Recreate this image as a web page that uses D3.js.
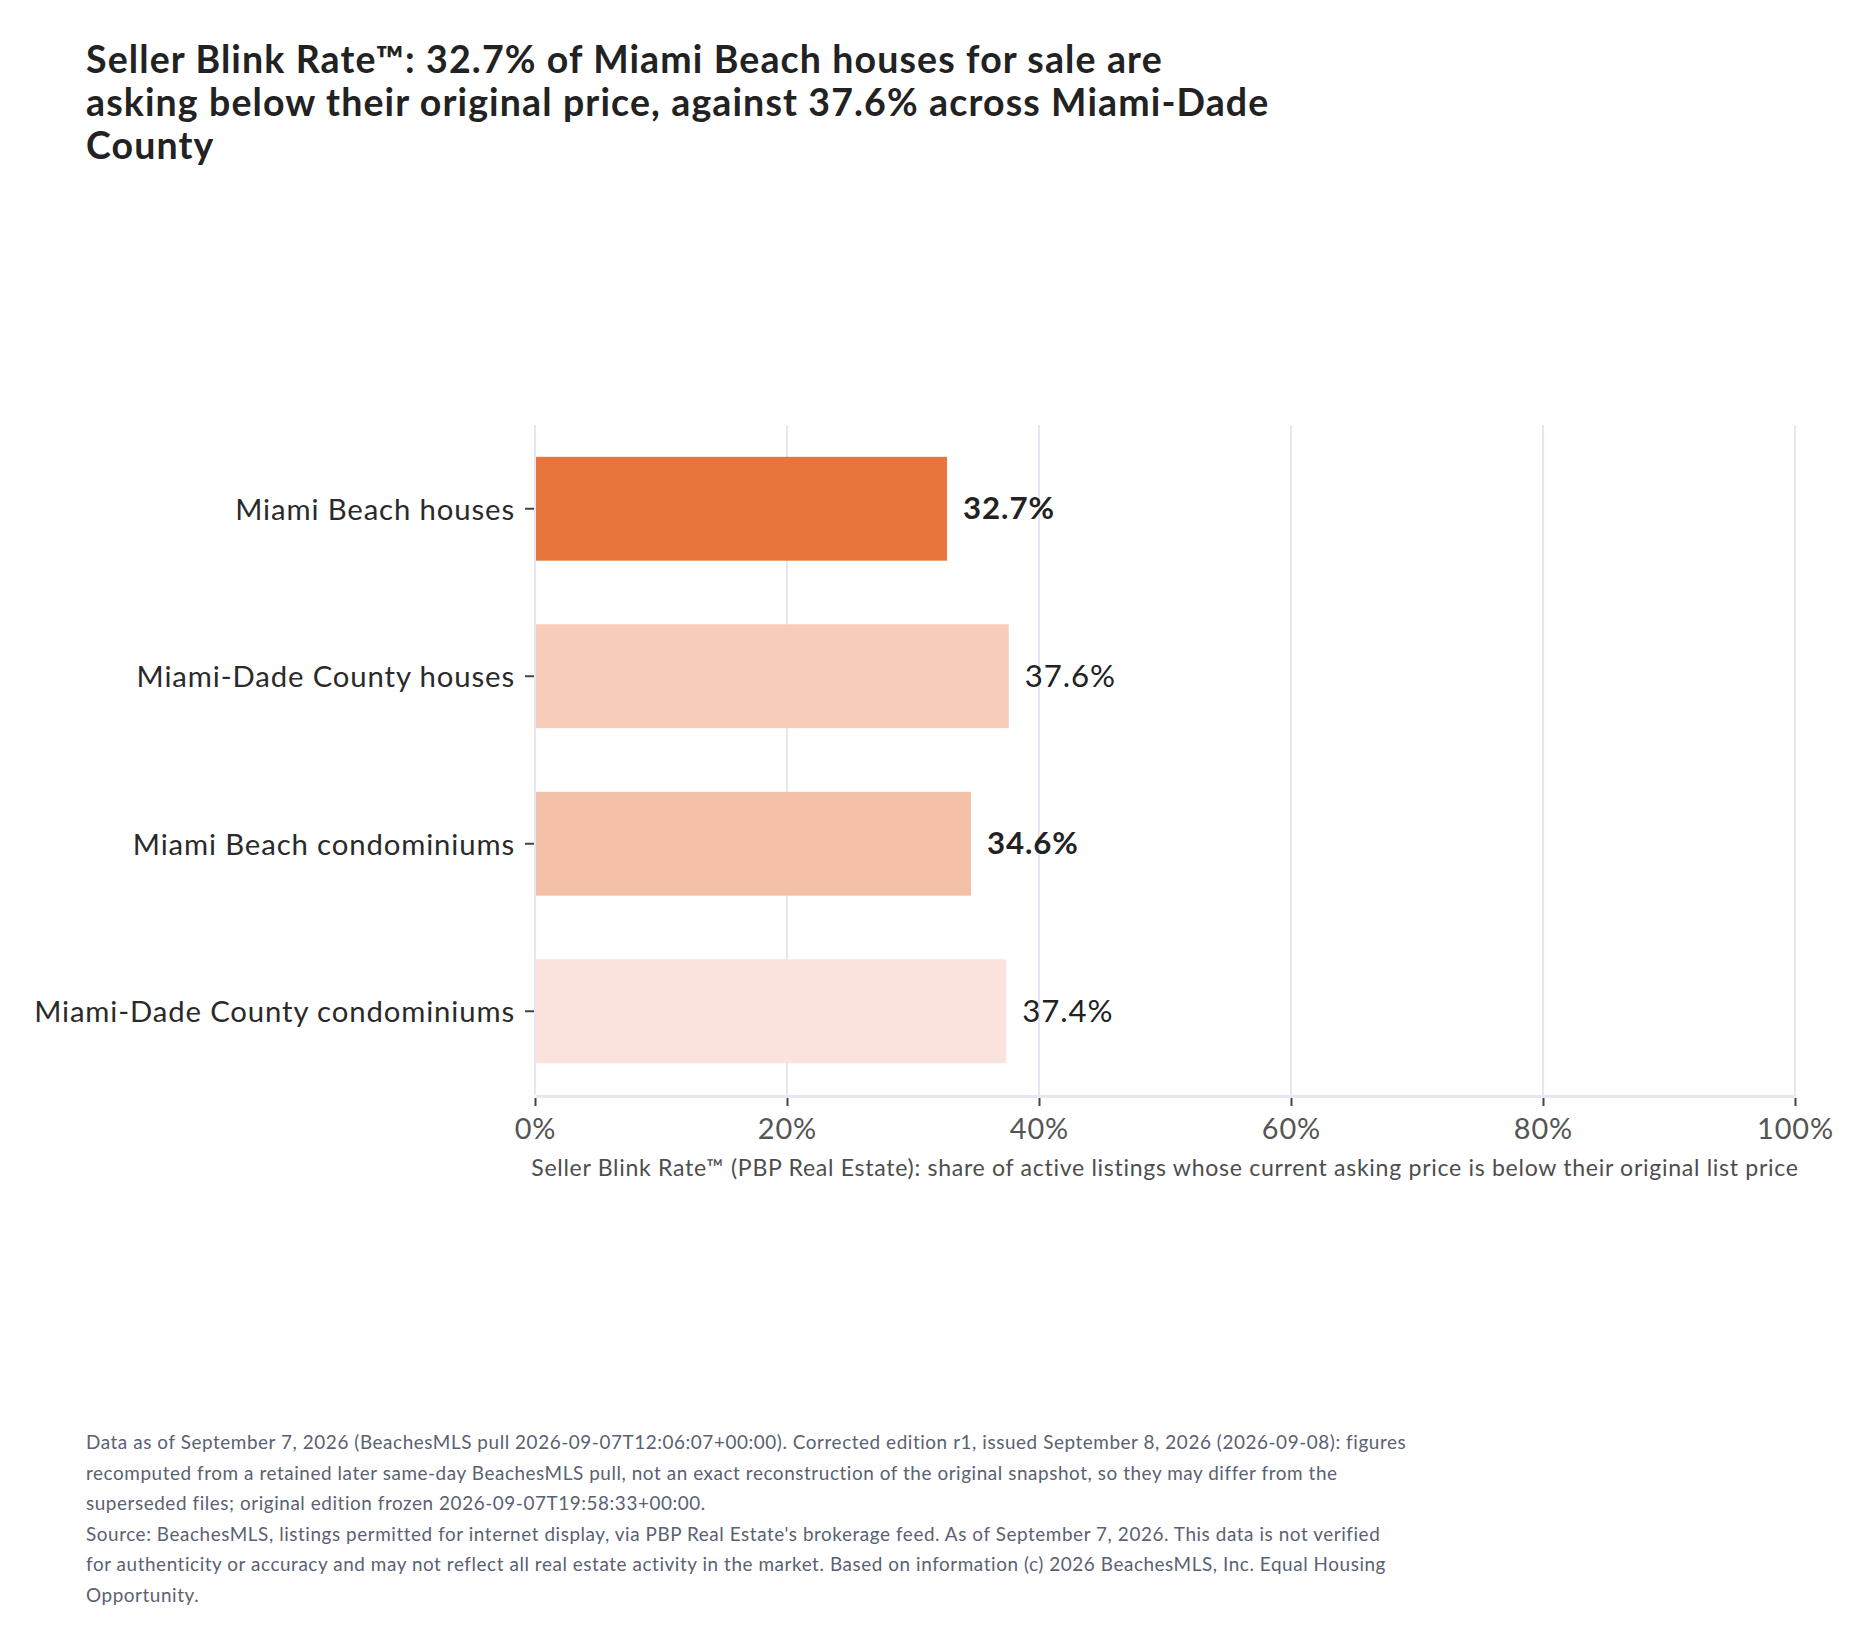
<!DOCTYPE html>
<html>
<head>
<meta charset="utf-8">
<script src="https://cdn.jsdelivr.net/npm/d3@7"></script>
<style>
  html, body { margin: 0; padding: 0; background: #ffffff; }
  svg { display: block; font-family: Lato, "Open Sans", sans-serif; }
</style>
</head>
<body>
<svg id="chart" width="1870" height="1644"></svg>
<script>
// ---- data ----
const categories = [
  "Miami Beach houses",
  "Miami-Dade County houses",
  "Miami Beach condominiums",
  "Miami-Dade County condominiums"
];
const values = [32.7, 37.6, 34.6, 37.4];
const valueLabels = ["32.7%", "37.6%", "34.6%", "37.4%"];
const highlighted = [true, false, true, false];
const barColors = ["#E8753C", "#F7CDB9", "#F5C0A8", "#F9E3DA"];
const xTicks = [0, 20, 40, 60, 80, 100];
const xTickLabels = ["0%", "20%", "40%", "60%", "80%", "100%"];
const titleLines = [
  "Seller Blink Rate\u2122: 32.7% of Miami Beach houses for sale are",
  "asking below their original price, against 37.6% across Miami-Dade",
  "County"
];
const xAxisTitle = "Seller Blink Rate\u2122 (PBP Real Estate): share of active listings whose current asking price is below their original list price";
const footnoteLines = [
  "Data as of September 7, 2026 (BeachesMLS pull 2026-09-07T12:06:07+00:00). Corrected edition r1, issued September 8, 2026 (2026-09-08): figures",
  "recomputed from a retained later same-day BeachesMLS pull, not an exact reconstruction of the original snapshot, so they may differ from the",
  "superseded files; original edition frozen 2026-09-07T19:58:33+00:00.",
  "Source: BeachesMLS, listings permitted for internet display, via PBP Real Estate's brokerage feed. As of September 7, 2026. This data is not verified",
  "for authenticity or accuracy and may not reflect all real estate activity in the market. Based on information (c) 2026 BeachesMLS, Inc. Equal Housing",
  "Opportunity."
];

// ---- layout ----
const svg = d3.select("#chart");
const plot = { left: 535, right: 1795, top: 425, bottom: 1095 };
const gridColor = "#E6E7F1";
const LS = "0.03em";

const x = d3.scaleLinear().domain([0, 100]).range([plot.left, plot.right]);
const y = d3.scaleBand().domain(categories).range([plot.top, plot.bottom])
  .paddingInner(0.38).paddingOuter(0.19);

// title
svg.append("text")
  .attr("x", 86).attr("y", 73)
  .attr("font-size", 37.5).attr("font-weight", 700).attr("fill", "#222222")
  .attr("letter-spacing", LS)
  .selectAll("tspan").data(titleLines).join("tspan")
  .attr("x", 86).attr("dy", (d, i) => i === 0 ? 0 : 42.8)
  .text(d => d);

// gridlines
svg.append("g").selectAll("line").data(xTicks.filter(t => t > 0)).join("line")
  .attr("x1", d => x(d)).attr("x2", d => x(d))
  .attr("y1", plot.top).attr("y2", plot.bottom)
  .attr("stroke", gridColor).attr("stroke-width", 2);

// bars
svg.append("g").selectAll("rect").data(categories).join("rect")
  .attr("x", x(0))
  .attr("y", d => y(d))
  .attr("width", (d, i) => x(values[i]) - x(0))
  .attr("height", y.bandwidth())
  .attr("fill", (d, i) => barColors[i]);

// zero line (left)
svg.append("line")
  .attr("x1", x(0)).attr("x2", x(0)).attr("y1", plot.top).attr("y2", plot.bottom)
  .attr("stroke", gridColor).attr("stroke-width", 2);

// x axis
const xAxis = d3.axisBottom(x).tickValues(xTicks)
  .tickFormat((d, i) => xTickLabels[i]).tickSizeOuter(0).tickSizeInner(9).tickPadding(13);
const gx = svg.append("g").attr("transform", `translate(0,${plot.bottom + 1})`).call(xAxis);
gx.select(".domain").attr("stroke", gridColor).attr("stroke-width", 3);
gx.selectAll(".tick line").attr("stroke", "#444").attr("stroke-width", 2).attr("y1", 2).attr("y2", 10);
gx.selectAll(".tick text").attr("font-family", "Lato, sans-serif").attr("font-size", 28.9)
  .attr("letter-spacing", LS).attr("fill", "#555555");

// y axis
const yAxis = d3.axisLeft(y).tickSizeOuter(0).tickSizeInner(9).tickPadding(10);
const gy = svg.append("g").attr("transform", `translate(${plot.left - 1},0)`).call(yAxis);
gy.select(".domain").remove();
gy.selectAll(".tick line").attr("stroke", "#444").attr("stroke-width", 2);
gy.selectAll(".tick text").attr("font-family", "Lato, sans-serif").attr("font-size", 29.3)
  .attr("letter-spacing", LS).attr("dy", "0.37em").attr("fill", "#2a2a2a");

// value labels
svg.append("g").selectAll("text").data(categories).join("text")
  .attr("x", (d, i) => x(values[i]) + 16)
  .attr("y", d => y(d) + y.bandwidth() / 2)
  .attr("dy", "0.33em")
  .attr("font-size", 31.2)
  .attr("letter-spacing", LS)
  .attr("font-weight", (d, i) => highlighted[i] ? 700 : 400)
  .attr("fill", "#222222")
  .text((d, i) => valueLabels[i]);

// x axis title
svg.append("text")
  .attr("x", (plot.left + plot.right) / 2).attr("y", 1176)
  .attr("text-anchor", "middle")
  .attr("font-size", 23.1).attr("letter-spacing", LS).attr("fill", "#4d4d4d")
  .text(xAxisTitle);

// footnote
svg.append("text")
  .attr("x", 86).attr("y", 1449)
  .attr("font-size", 18.9).attr("letter-spacing", LS).attr("fill", "#5a6172")
  .selectAll("tspan").data(footnoteLines).join("tspan")
  .attr("x", 86).attr("dy", (d, i) => i === 0 ? 0 : 30.5)
  .text(d => d);
</script>
</body>
</html>
